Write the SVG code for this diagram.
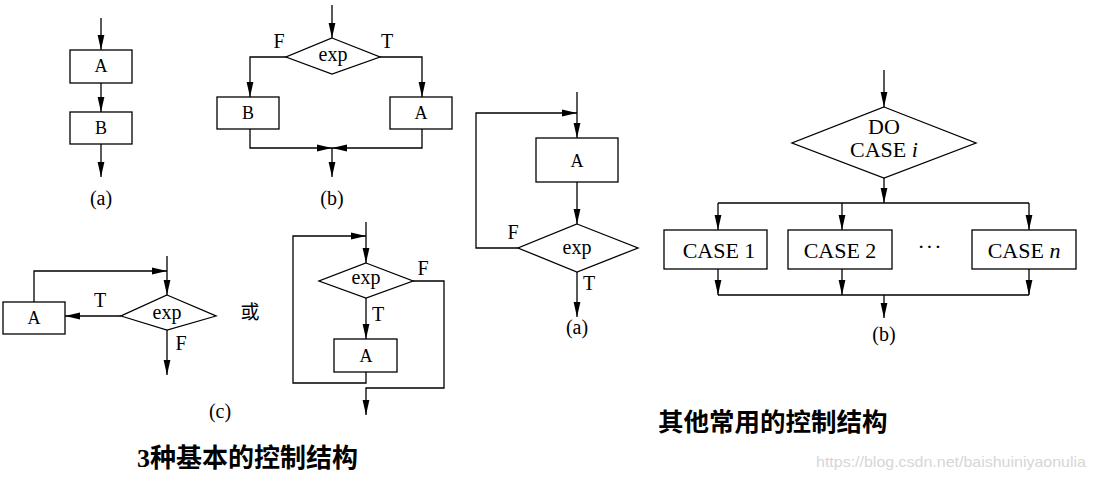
<svg xmlns="http://www.w3.org/2000/svg" width="1096" height="480" viewBox="0 0 1096 480">
<defs>
<marker id="ah" markerUnits="userSpaceOnUse" markerWidth="16" markerHeight="8" viewBox="0 0 16 8" refX="15" refY="4" orient="auto"><path d="M0,0.6 L15,4 L0,7.4 z" fill="#000"/></marker>
</defs>
<style>
.ln{fill:none;stroke:#000;stroke-width:1.3}
.ar{fill:none;stroke:#000;stroke-width:1.3;marker-end:url(#ah)}
.bx{fill:#fff;stroke:#000;stroke-width:1.3}
.t{font-family:"Liberation Serif","Times New Roman",serif;font-size:20px;fill:#000;text-anchor:middle}
.tb{font-family:"Liberation Serif","Times New Roman",serif;font-size:18px;fill:#000;text-anchor:middle}
.tc{font-family:"Liberation Serif","Times New Roman",serif;font-size:22px;fill:#000;text-anchor:middle}
.cjk{font-family:"Noto Sans CJK SC",sans-serif;fill:#000}
.wm{font-family:"Liberation Sans",Arial,sans-serif;font-size:15px;fill:#d6d6d6}
</style>
<rect width="1096" height="480" fill="#fff"/>

<g id="connectors">
  <path class="ar" d="M101,18 V50"/>
  <path class="ar" d="M101,83 V112"/>
  <path class="ar" d="M101,144 V177"/>
  <path class="ar" d="M332,5 V38"/>
  <path class="ar" d="M286,57 H250 V97"/>
  <path class="ar" d="M380,57 H422 V97"/>
  <path class="ar" d="M250,129 V148 H332"/>
  <path class="ar" d="M422,129 V148 H332"/>
  <path class="ar" d="M332,148 V177"/>
  <path class="ar" d="M167,256 V295"/>
  <path class="ar" d="M34,302 V271 H167"/>
  <path class="ar" d="M121,316 H65"/>
  <path class="ar" d="M167,330 V375"/>
  <path class="ar" d="M366,222 V263"/>
  <path class="ar" d="M366,372 V383 H293 V236 H366"/>
  <path class="ar" d="M366,298 V339"/>
  <path class="ar" d="M413,281 H444 V388 H366 V415"/>
  <path class="ar" d="M577,92 V138"/>
  <path class="ar" d="M577,182 V224"/>
  <path class="ar" d="M518,248 H476 V113 H577"/>
  <path class="ar" d="M577,272 V317"/>
  <path class="ar" d="M884,70 V107"/>
  <path class="ar" d="M884,178 V203"/>
  <path class="ln" d="M718,203 H1029"/>
  <path class="ar" d="M718,203 V230"/>
  <path class="ar" d="M842,203 V230"/>
  <path class="ar" d="M1029,203 V230"/>
  <path class="ar" d="M718,269 V295"/>
  <path class="ar" d="M842,269 V295"/>
  <path class="ar" d="M1029,269 V295"/>
  <path class="ln" d="M718,295 H1029"/>
  <path class="ar" d="M884,295 V318"/>
</g>

<g id="seq-A"><rect class="bx" x="70" y="50" width="62" height="33"/><text class="tb" x="101" y="72">A</text></g>
<g id="seq-B"><rect class="bx" x="70" y="112" width="62" height="32"/><text class="tb" x="101" y="134">B</text></g>
<text class="t" x="101" y="205">(a)</text>

<g id="sel-exp"><polygon class="bx" points="332,38 380,57 332,74 286,57"/><text class="t" x="333" y="61">exp</text></g>
<g id="sel-B"><rect class="bx" x="217" y="97" width="62" height="32"/><text class="tb" x="248" y="119">B</text></g>
<g id="sel-A"><rect class="bx" x="390" y="97" width="62" height="32"/><text class="tb" x="421" y="119">A</text></g>
<text class="t" x="279" y="48">F</text>
<text class="t" x="387" y="48">T</text>
<text class="t" x="332" y="205">(b)</text>

<g id="loop1-A"><rect class="bx" x="3" y="302" width="62" height="32"/><text class="tb" x="34" y="324">A</text></g>
<g id="loop1-exp"><polygon class="bx" points="167,295 216,316 167,330 121,316"/><text class="t" x="167" y="319">exp</text></g>
<text class="t" x="100" y="307">T</text>
<text class="t" x="181" y="350">F</text>
<text class="t" x="220" y="418">(c)</text>
<text class="cjk" x="250" y="319" font-size="19" text-anchor="middle">或</text>

<g id="loop2-exp"><polygon class="bx" points="366,263 413,281 366,298 319,281"/><text class="t" x="366" y="284">exp</text></g>
<g id="loop2-A"><rect class="bx" x="334" y="339" width="63" height="33"/><text class="tb" x="366" y="362">A</text></g>
<text class="t" x="423" y="275">F</text>
<text class="t" x="378" y="321">T</text>

<g id="until-A"><rect class="bx" x="536" y="138" width="82" height="44"/><text class="tb" x="577" y="167">A</text></g>
<g id="until-exp"><polygon class="bx" points="577,224 638,248 577,272 518,248"/><text class="t" x="577" y="254">exp</text></g>
<text class="t" x="513" y="239">F</text>
<text class="t" x="589" y="290">T</text>
<text class="t" x="577" y="334">(a)</text>

<g id="docase"><polygon class="bx" points="884,107 976,143 884,178 792,143"/><text class="tc" x="884" y="134">DO</text><text class="tc" x="884" y="157">CASE <tspan font-style="italic">i</tspan></text></g>
<g id="case1"><rect class="bx" x="664" y="230" width="103" height="39"/><text class="tc" x="719" y="258">CASE 1</text></g>
<g id="case2"><rect class="bx" x="788" y="230" width="104" height="39"/><text class="tc" x="840" y="258">CASE 2</text></g>
<text class="tc" x="930" y="254" letter-spacing="1">···</text>
<g id="casen"><rect class="bx" x="972" y="230" width="104" height="39"/><text class="tc" x="1024" y="258">CASE <tspan font-style="italic">n</tspan></text></g>
<text class="t" x="884" y="341">(b)</text>

<text class="cjk" x="137" y="467" font-size="26" font-weight="bold"><tspan font-family="Liberation Serif, serif">3</tspan>种基本的控制结构</text>
<text class="cjk" x="658" y="431" font-size="25.5" font-weight="bold">其他常用的控制结构</text>
<text class="wm" x="816" y="467" textLength="270" lengthAdjust="spacingAndGlyphs">https://blog.csdn.net/baishuiniyaonulia</text>
</svg>
